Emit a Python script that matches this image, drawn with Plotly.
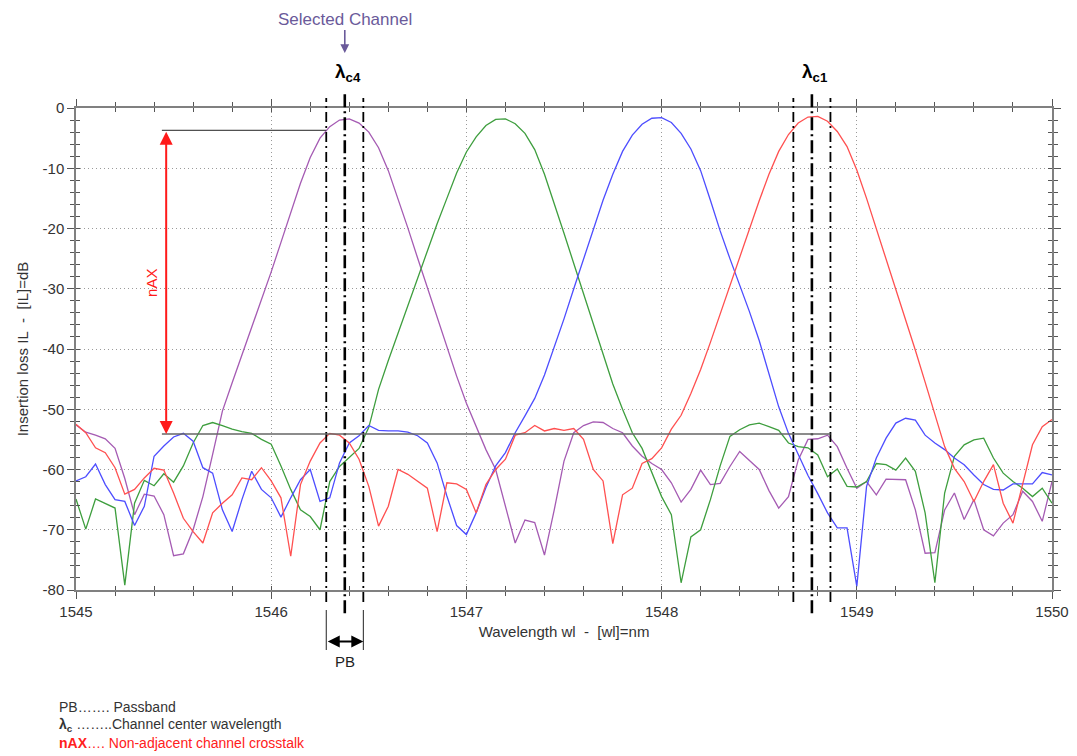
import numpy as np
import plotly.graph_objects as go

# Wavelength sampling of the measured spectra (nm)
wavelength = np.round(np.arange(101) * 0.05 + 1545.0, 2)

# Insertion loss (dB) per channel, one value per wavelength sample
il_ch4 = [-52.6, -53.8, -54.3, -54.9, -56.5, -61.5, -67.5, -64.1, -64.4, -67.5,
          -74.3, -74.0, -70.0, -64.5, -57.5, -50.3, -45.6, -41.0, -36.6, -32.0,
          -27.2, -22.3, -17.3, -12.5, -8.2, -5.0, -3.1, -2.0, -1.8, -2.5,
          -4.0, -6.6, -10.4, -15.0, -19.9, -24.9, -29.9, -34.8, -39.7, -44.5,
          -49.0, -52.8, -56.7, -60.0, -66.1, -72.2, -68.4, -68.8, -74.2, -66.7,
          -58.6, -53.9, -52.7, -52.1, -52.2, -53.2, -53.9, -56.1, -57.8, -59.0,
          -60.0, -62.2, -65.4, -63.3, -60.1, -62.5, -62.3, -59.5, -57.0, -58.5,
          -60.0, -63.5, -66.4, -64.5, -58.4, -55.0, -54.9, -54.3, -56.2, -59.8,
          -63.1, -62.0, -64.2, -61.6, -61.6, -61.7, -66.7, -73.9, -73.8, -66.7,
          -63.9, -68.3, -65.0, -70.0, -71.0, -68.9, -67.5, -63.6, -65.3, -68.6,
          -62.0]

il_ch3 = [-64.9, -69.9, -64.9, -65.6, -66.4, -79.2, -65.6, -61.8, -62.7, -60.7,
          -62.1, -59.4, -55.6, -52.7, -52.2, -52.7, -53.3, -53.7, -54.0, -55.0,
          -55.8, -59.4, -63.3, -66.7, -67.8, -70.0, -62.0, -59.5, -58.0, -56.5,
          -53.0, -46.7, -41.9, -37.3, -32.7, -28.2, -23.6, -19.2, -15.0, -10.8,
          -7.3, -4.8, -2.9, -1.9, -1.8, -2.6, -4.2, -6.9, -11.0, -15.8,
          -20.8, -25.8, -30.9, -36.0, -41.0, -45.8, -50.0, -53.9, -56.5, -60.5,
          -64.5, -67.5, -78.8, -71.2, -70.0, -65.0, -59.4, -54.5, -53.4, -52.6,
          -52.3, -52.9, -53.5, -55.6, -56.2, -56.4, -57.6, -61.2, -59.9, -62.8,
          -62.9, -62.0, -59.0, -59.2, -60.1, -58.1, -60.3, -67.2, -78.8, -63.9,
          -57.8, -55.9, -55.1, -54.8, -58.1, -60.6, -62.0, -63.1, -64.5, -63.1,
          -65.6]

il_ch2 = [-61.9, -61.2, -59.1, -62.5, -65.0, -65.3, -69.3, -66.1, -57.8, -56.1,
          -54.6, -54.0, -55.3, -59.7, -60.6, -66.7, -70.3, -65.0, -60.3, -63.3,
          -64.7, -67.9, -64.7, -61.7, -60.0, -65.3, -64.7, -58.9, -55.6, -54.4,
          -52.7, -53.5, -53.6, -53.6, -53.8, -54.4, -55.6, -58.9, -64.4, -69.3,
          -70.8, -67.2, -63.0, -59.4, -57.2, -53.9, -51.1, -48.2, -44.3, -39.8,
          -35.0, -30.0, -25.0, -20.0, -15.3, -11.0, -7.2, -4.5, -2.7, -1.7,
          -1.6, -2.4, -4.2, -6.8, -10.4, -15.3, -20.4, -25.0, -29.4, -33.8,
          -38.6, -44.0, -49.6, -54.0, -57.6, -61.0, -64.0, -67.2, -69.7, -69.7,
          -79.4, -62.8, -58.1, -54.8, -52.3, -51.5, -51.8, -54.3, -55.6, -56.7,
          -58.1, -59.2, -60.9, -62.5, -63.3, -63.4, -62.4, -62.4, -62.4, -60.5,
          -60.9]

il_ch1 = [-52.5, -53.9, -56.4, -57.2, -59.7, -64.1, -63.3, -61.4, -59.8, -60.1,
          -63.9, -68.1, -70.3, -72.2, -67.2, -65.6, -64.2, -61.4, -61.7, -59.7,
          -61.9, -64.7, -74.4, -62.5, -58.6, -55.6, -54.0, -54.3, -55.6, -58.3,
          -62.8, -69.4, -66.1, -60.0, -60.8, -61.9, -63.1, -70.3, -62.2, -62.4,
          -63.3, -67.2, -62.5, -60.0, -58.3, -54.3, -53.9, -52.7, -53.6, -53.2,
          -53.5, -53.2, -55.0, -60.0, -61.9, -72.3, -64.2, -63.1, -59.0, -58.2,
          -56.4, -53.3, -51.0, -47.4, -43.4, -38.9, -34.2, -29.4, -24.7, -20.0,
          -15.4, -11.0, -7.2, -4.4, -2.5, -1.5, -1.4, -2.2, -3.9, -6.4,
          -10.3, -15.0, -20.0, -25.0, -30.0, -35.0, -40.2, -45.5, -51.0, -56.2,
          -59.8, -62.0, -65.3, -62.0, -59.2, -65.6, -68.9, -62.5, -55.9, -52.9,
          -51.7]

channel_names = ["Channel 4", "Channel 3", "Channel 2", "Channel 1"]
channel_colors = ["#a55bb3", "#3e9e3e", "#4d4dff", "#ff5050"]
channel_values = [il_ch4, il_ch3, il_ch2, il_ch1]

# Channel centre wavelengths, passband half width (nm) and crosstalk levels (dB)
lambda_c4 = 1546.377
lambda_c1 = 1548.770
pb_half = 0.095
il_peak_ref = -3.7
il_floor_ref = -54.1
ref_start_wl = 1545.44
nax_arrow_wl = 1545.462

# Axis ticks
x_ticks = [1545, 1546, 1547, 1548, 1549, 1550]
y_ticks = [0, -10, -20, -30, -40, -50, -60, -70, -80]
y_tick_text = ["0", "-10", "-20", "-30", "-40", "-50", "-60", "-70", "-80"]

FONT = "Liberation Sans, Arial, sans-serif"
TXT = "#333333"
PURPLE_TXT = "#6a5a9a"

fig = go.Figure()
for name, color, vals in zip(channel_names, channel_colors, channel_values):
    fig.add_trace(go.Scatter(x=wavelength, y=vals, mode="lines", name=name,
                             line=dict(color=color, width=1.3),
                             hoverinfo="x+y+name"))

# helper trace so the overlaid tick-only axes are rendered
fig.add_trace(go.Scatter(x=[1545], y=[-80], xaxis="x2", yaxis="y2", mode="markers",
                         marker=dict(opacity=0), hoverinfo="skip", showlegend=False))

shapes = []
# channel centre lines (thick dash-dot) and passband edges (thinner dash-dot)
for lam in (lambda_c4, lambda_c1):
    shapes.append(dict(type="line", xref="x", yref="paper", x0=lam, x1=lam,
                       y0=-0.048, y1=1.037,
                       line=dict(color="black", width=2.6, dash="13px,4px,2px,4px")))
    for edge in (lam - pb_half, lam + pb_half):
        shapes.append(dict(type="line", xref="x", yref="paper", x0=edge, x1=edge,
                           y0=-0.025, y1=1.021,
                           line=dict(color="black", width=1.8, dash="10px,4px,2px,4px")))
# passband bracket below the axis
for edge in (lambda_c4 - pb_half, lambda_c4 + pb_half):
    shapes.append(dict(type="line", xref="x", yref="paper", x0=edge, x1=edge,
                       y0=-0.0415, y1=-0.1245, line=dict(color="#222", width=1)))
# crosstalk reference levels
shapes.append(dict(type="line", xref="x", yref="y", x0=ref_start_wl, x1=lambda_c4 - pb_half,
                   y0=il_peak_ref, y1=il_peak_ref, line=dict(color="#222", width=1)))
shapes.append(dict(type="line", xref="x", yref="y", x0=ref_start_wl, x1=lambda_c1 + pb_half,
                   y0=il_floor_ref, y1=il_floor_ref, line=dict(color="#666", width=1.6)))

mid = dict(yanchor="middle")
annotations = [
    # selected channel pointer
    dict(text="Selected Channel", x=lambda_c4, xref="x", y=1.114, yref="paper",
         showarrow=True, ax=0, ay=-34, arrowhead=2, arrowsize=1.1, arrowwidth=1.6,
         arrowcolor=PURPLE_TXT, font=dict(family=FONT, size=17, color=PURPLE_TXT)),
    dict(text="<b>λ<sub>c4</sub></b>", x=lambda_c4, xref="x", xshift=3, y=1.072, yref="paper",
         showarrow=False, font=dict(family=FONT, size=19, color="black"), **mid),
    dict(text="<b>λ<sub>c1</sub></b>", x=lambda_c1, xref="x", xshift=3, y=1.072, yref="paper",
         showarrow=False, font=dict(family=FONT, size=19, color="black"), **mid),
    # non-adjacent crosstalk arrow
    dict(text="", x=nax_arrow_wl, xref="x", y=il_floor_ref, yref="y",
         ax=nax_arrow_wl, axref="x", ay=il_peak_ref, ayref="y",
         showarrow=True, arrowhead=2, startarrowhead=2, arrowside="end+start",
         arrowsize=1.3, startarrowsize=1.3, arrowwidth=2, arrowcolor="#ff1a1a"),
    dict(text="nAX", x=nax_arrow_wl, xref="x", xshift=-14, y=-29.0, yref="y",
         textangle=-90, showarrow=False, font=dict(family=FONT, size=15, color="#ff1a1a")),
    # passband width arrow
    dict(text="", x=lambda_c4 + pb_half, xref="x", y=-0.107, yref="paper",
         ax=lambda_c4 - pb_half, axref="x", ay=0, ayref="pixel",
         showarrow=True, arrowhead=2, startarrowhead=2, arrowside="end+start",
         arrowsize=1.2, startarrowsize=1.2, arrowwidth=2, arrowcolor="black"),
    dict(text="PB", x=lambda_c4, xref="x", y=-0.149, yref="paper", showarrow=False,
         font=dict(family=FONT, size=15, color="#222"), **mid),
    # key
    dict(text="PB……. Passband", x=-0.0195, xref="paper", y=-0.2427, yref="paper",
         xanchor="left", showarrow=False, font=dict(family=FONT, size=14, color=TXT), **mid),
    dict(text="<b>λ<sub>c</sub></b> ……..Channel center wavelength", x=-0.0195, xref="paper",
         y=-0.2801, yref="paper", xanchor="left", showarrow=False,
         font=dict(family=FONT, size=14, color=TXT), **mid),
    dict(text="<b>nAX</b>…. Non-adjacent channel crosstalk", x=-0.0195, xref="paper",
         y=-0.3174, yref="paper", xanchor="left", showarrow=False,
         font=dict(family=FONT, size=14, color="#ff2020"), **mid),
]

axis_common = dict(showline=True, linecolor="#808080", linewidth=1.5, mirror="allticks",
                   zeroline=False, tickcolor="#555", tickwidth=1.2)
grid_style = dict(showgrid=True, gridcolor="#9a9a9a", griddash="1px,3px", gridwidth=1)

fig.update_layout(
    template="none",
    width=1077, height=756,
    margin=dict(l=76, r=25, t=108, b=166, autoexpand=False),
    paper_bgcolor="white", plot_bgcolor="white",
    showlegend=False,
    font=dict(family=FONT, size=15, color=TXT),
    shapes=shapes,
    annotations=annotations,
    xaxis=dict(range=[1545, 1550], tickmode="array", tickvals=x_ticks,
               ticktext=[str(v) for v in x_ticks], ticks="outside", ticklen=7,
               minor=dict(dtick=0.2, tick0=1545, ticks="outside", ticklen=4,
                          tickcolor="#555", showgrid=False),
               tickfont=dict(family=FONT, size=15, color=TXT), automargin=False,
               title=dict(text="Wavelength wl\u00a0 -\u00a0 [wl]=nm", standoff=8,
                          font=dict(family=FONT, size=15, color=TXT)),
               **grid_style, **axis_common),
    yaxis=dict(range=[-80, 0], tickmode="array", tickvals=y_ticks, ticktext=y_tick_text,
               ticks="outside", ticklen=7,
               minor=dict(dtick=2, tick0=0, ticks="outside", ticklen=4,
                          tickcolor="#555", showgrid=False),
               tickfont=dict(family=FONT, size=15, color=TXT), automargin=False,
               title=dict(text="Insertion loss IL\u00a0 -\u00a0 [IL]=dB", standoff=10,
                          font=dict(family=FONT, size=15, color=TXT)),
               **grid_style, **axis_common),
    xaxis2=dict(range=[1545, 1550], overlaying="x", side="bottom", anchor="y2",
                tick0=1545, dtick=1, ticks="inside", ticklen=4,
                minor=dict(dtick=0.2, tick0=1545, ticks="inside", ticklen=4, tickcolor="#555"),
                showticklabels=False, showgrid=False, **axis_common),
    yaxis2=dict(range=[-80, 0], overlaying="y", side="left", anchor="x2",
                tick0=0, dtick=10, ticks="inside", ticklen=4,
                minor=dict(dtick=2, tick0=0, ticks="inside", ticklen=4, tickcolor="#555"),
                showticklabels=False, showgrid=False, **axis_common),
)

fig.write_html("out.html")
